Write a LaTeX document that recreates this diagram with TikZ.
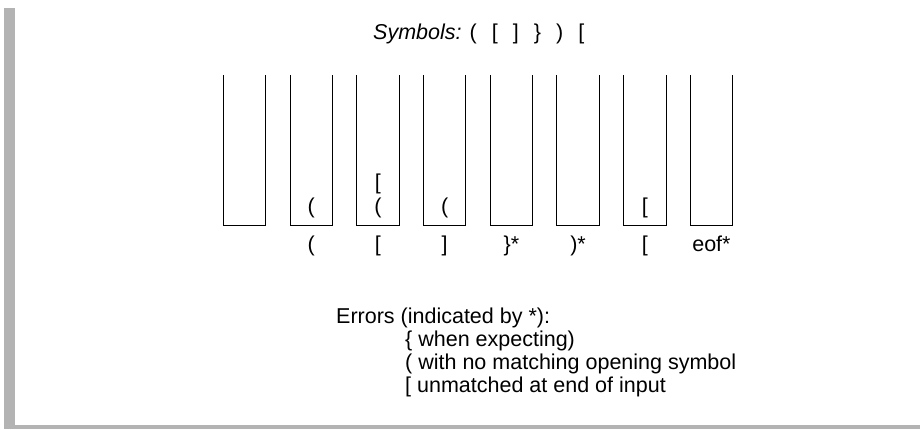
\documentclass[tikz,border=0pt]{standalone}
\usepackage{fontspec}
\setmainfont{Liberation Sans}

\newcommand*{\stackleft}{223.3}
\newcommand*{\stackpitch}{66.7}
\newcommand*{\stackw}{42.5}
\newcommand*{\stackbot}{204}
\newcommand*{\stacktop}{354}

\begin{document}
\begin{tikzpicture}
[
	x=1pt,y=1pt,
	every node/.style={font=\fontsize{21.5}{23}\selectfont,inner sep=0pt},
	framebar/.style={fill={rgb,255:red,179;green,179;blue,179}},
	stackline/.style={line width=1pt},
	item/.style={anchor=base},
	errline/.style={anchor=base west}
]

	\useasboundingbox (0,0) rectangle (920,429);

	% frame
	\fill[framebar] (4,0) rectangle (15,421);
	\fill[framebar] (4,0) rectangle (920,4);

	% title
	\node[errline] (title) at (373,389.5)
		{\textit{Symbols:} (\hspace{0.7em}[\hspace{0.7em}]\hspace{0.7em}\}\hspace{0.7em})\hspace{0.7em}[};

	% stacks
	\foreach \i in {0,...,7} {
		\pgfmathsetmacro{\xl}{\stackleft+\i*\stackpitch}
		\pgfmathsetmacro{\xr}{\xl+\stackw}
		\coordinate (c\i) at (\xl+\stackw/2,0);
		\draw[stackline] (\xl,\stacktop) -- (\xl,\stackbot) -- (\xr,\stackbot) -- (\xr,\stacktop);
	}

	% stack contents
	\foreach \i/\sym in {1/(,2/(,3/(,6/[} {
		\node[item] (bot\i) at ([yshift=216pt]c\i) {\sym};
	}
	\node[item] (top2) at ([yshift=240pt]c2) {[};

	% input symbols
	\foreach \i/\sym in {1/(,2/[,3/],4/\}*,5/)*,6/[,7/eof*} {
		\node[item] (in\i) at ([yshift=177.5pt]c\i) {\sym};
	}

	% errors
	\node[errline] (err) at (336,105.7) {Errors (indicated by *):};
	\node[errline] (err1) at (405,82.7) {\{ when expecting)};
	\node[errline] (err2) at (405,59.7) {( with no matching opening symbol};
	\node[errline] (err3) at (405,36.7) {[ unmatched at end of input};

\end{tikzpicture}
\end{document}
